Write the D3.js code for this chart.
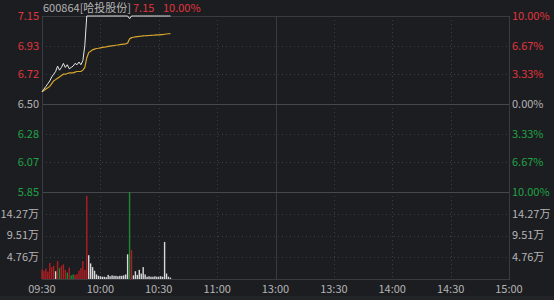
<!DOCTYPE html>
<html>
<head>
<meta charset="utf-8">
<script src="https://cdn.jsdelivr.net/npm/d3@7"></script>
<style>
  html, body { margin: 0; padding: 0; background: #1c1d21; }
  svg { display: block; }
  text { font-family: "Noto Sans CJK SC", "Noto Sans", sans-serif; font-size: 11px; }
</style>
</head>
<body>
<div id="chart"></div>
<script>
var width = 554, height = 300;
var plotLeft = 42, plotRight = 509, plotTop = 16, plotMid = 192, plotBottom = 279;

// minute index from 09:30 (0 .. 240)
var timeLabels = ['09:30', '10:00', '10:30', '11:00', '13:00', '13:30', '14:00', '14:30', '15:00'];
var timeTicks = [0, 30, 60, 90, 120, 150, 180, 210, 240];

var prevClose = 6.50;
var priceTicks = [7.15, 6.93, 6.72, 6.50, 6.28, 6.07, 5.85];
var pctLabels = ['10.00%', '6.67%', '3.33%', '0.00%', '3.33%', '6.67%', '10.00%'];
var volTicks = [14.27, 9.51, 4.76];
var volMax = 19.02;

var price = [6.59, 6.61, 6.63, 6.65, 6.67, 6.70, 6.72, 6.74, 6.78, 6.75,
             6.77, 6.80, 6.77, 6.79, 6.76, 6.77, 6.78, 6.80, 6.79, 6.81,
             6.79, 6.82, 6.93, 7.15, 7.15, 7.15, 7.15, 7.15, 7.15, 7.15,
             7.15, 7.15, 7.15, 7.15, 7.15, 7.15, 7.15, 7.15, 7.15, 7.15,
             7.15, 7.15, 7.15, 7.15, 7.15, 7.13, 7.15, 7.15, 7.15, 7.15,
             7.15, 7.15, 7.15, 7.15, 7.15, 7.15, 7.15, 7.15, 7.15, 7.15,
             7.15, 7.15, 7.15, 7.15, 7.15, 7.15, 7.15];

var avg = [6.59, 6.60, 6.61, 6.62, 6.63, 6.65, 6.67, 6.68, 6.69, 6.70,
           6.71, 6.72, 6.72, 6.725, 6.73, 6.73, 6.73, 6.735, 6.74, 6.74,
           6.74, 6.75, 6.77, 6.84, 6.88, 6.89, 6.90, 6.905, 6.91, 6.912,
           6.915, 6.918, 6.92, 6.922, 6.925, 6.928, 6.93, 6.932, 6.934, 6.936,
           6.938, 6.94, 6.942, 6.944, 6.95, 6.98, 6.99, 6.993, 6.996, 6.998,
           7.00, 7.001, 7.003, 7.004, 7.005, 7.006, 7.007, 7.008, 7.009, 7.01,
           7.011, 7.012, 7.013, 7.015, 7.017, 7.019, 7.02];

// 万
var volume = [2.0, 1.8, 2.3, 1.6, 3.5, 2.6, 2.9, 1.7, 3.9, 2.4,
              2.9, 3.2, 2.0, 1.4, 2.5, 0.8, 1.0, 0.9, 1.1, 1.8,
              2.4, 3.9, 2.0, 18.2, 5.2, 3.4, 2.6, 1.8, 1.0, 0.7,
              0.6, 0.5, 0.5, 0.4, 0.9, 0.6, 0.8, 0.7, 0.7, 0.6,
              0.7, 0.7, 0.8, 1.0, 5.4, 19.0, 6.3, 0.8, 1.7, 0.9,
              2.0, 1.2, 2.6, 1.0, 0.5, 0.6, 0.5, 0.5, 0.6, 0.5,
              0.5, 0.6, 0.5, 8.1, 1.2, 0.5, 0.3];

// r = up, g = down, w = flat
var volDir = ['r','r','r','r','r','r','r','w','r','g',
              'r','r','r','g','r','g','g','r','r','r',
              'r','r','r','r','w','w','w','w','w','w',
              'w','w','w','w','w','w','w','w','w','w',
              'w','w','w','w','w','g','r','w','w','w',
              'w','w','w','w','w','w','w','w','w','w',
              'w','w','w','w','w','w','w'];

var RED = '#e0353d', GREEN = '#1fa344', GRAY = '#b4b4b4';
var barColor = { r: '#b01e22', g: '#1b8a30', w: '#d8d8d8' };

var x = d3.scaleLinear().domain([0, 240]).range([plotLeft, plotRight]);
var y = d3.scaleLinear().domain([5.85, 7.15]).range([plotMid, plotTop]);
var yv = d3.scaleLinear().domain([0, volMax]).range([plotBottom, plotMid]);

var labelColor = function(v) {
  if (Math.abs(v - prevClose) < 0.001) return GRAY;
  return v > prevClose ? RED : GREEN;
};

var svg = d3.select('#chart').append('svg')
  .attr('width', width)
  .attr('height', height);

svg.append('rect')
  .attr('width', width).attr('height', height)
  .attr('fill', '#1c1d21');

// bottom strip
svg.append('rect')
  .attr('x', 0).attr('y', 296).attr('width', width).attr('height', 4)
  .attr('fill', '#232428');

var grid = svg.append('g');

// horizontal dotted lines
var dottedPrices = priceTicks.filter(function(d) { return d != 7.15 && d != 6.50 && d != 5.85; });
grid.selectAll('line.hp')
  .data(dottedPrices).enter()
  .append('line')
  .attr('x1', plotLeft).attr('x2', plotRight)
  .attr('y1', function(d) { return Math.round(y(d)) + 0.5; })
  .attr('y2', function(d) { return Math.round(y(d)) + 0.5; })
  .attr('stroke', '#3c3d42')
  .attr('stroke-dasharray', '1,3');

grid.selectAll('line.hv')
  .data(volTicks).enter()
  .append('line')
  .attr('x1', plotLeft).attr('x2', plotRight)
  .attr('y1', function(d) { return Math.round(yv(d)) + 0.5; })
  .attr('y2', function(d) { return Math.round(yv(d)) + 0.5; })
  .attr('stroke', '#3c3d42')
  .attr('stroke-dasharray', '1,3');

// vertical lines
grid.selectAll('line.vt')
  .data(timeTicks.slice(1, -1)).enter()
  .append('line')
  .attr('x1', function(d) { return Math.round(x(d)) + 0.5; })
  .attr('x2', function(d) { return Math.round(x(d)) + 0.5; })
  .attr('y1', plotTop).attr('y2', plotBottom)
  .attr('stroke', function(d) { return d == 120 ? '#3a3b40' : '#3c3d42'; })
  .attr('stroke-dasharray', function(d) { return d == 120 ? null : '1,3'; });

// solid lines: 0% and separator
grid.selectAll('line.solid')
  .data([y(prevClose), y(5.85)]).enter()
  .append('line')
  .attr('x1', plotLeft).attr('x2', plotRight)
  .attr('y1', function(d) { return Math.round(d) + 0.5; })
  .attr('y2', function(d) { return Math.round(d) + 0.5; })
  .attr('stroke', '#47484d');

// border
grid.append('rect')
  .attr('x', plotLeft + 0.5).attr('y', plotTop + 0.5)
  .attr('width', plotRight - plotLeft).attr('height', plotBottom - plotTop)
  .attr('fill', 'none')
  .attr('stroke', '#3a3b40');

// volume bars
svg.selectAll('rect.vol')
  .data(volume).enter()
  .append('rect')
  .attr('x', function(d, i) { return x(i) - 0.7; })
  .attr('width', 1.4)
  .attr('y', function(d) { return yv(d); })
  .attr('height', function(d) { return plotBottom - yv(d); })
  .attr('fill', function(d, i) { return barColor[volDir[i]]; });

// average line
var line = d3.line()
  .x(function(d, i) { return x(i); })
  .y(function(d) { return y(d); });

svg.append('path')
  .datum(avg)
  .attr('d', line)
  .attr('fill', 'none')
  .attr('stroke', '#d6a62c')
  .attr('stroke-width', 1.2);

svg.append('path')
  .datum(price)
  .attr('d', line)
  .attr('fill', 'none')
  .attr('stroke', '#e6e6e6')
  .attr('stroke-width', 1);

// left price labels
svg.selectAll('text.lp')
  .data(priceTicks).enter()
  .append('text')
  .attr('x', plotLeft - 3)
  .attr('y', function(d) { return y(d); })
  .attr('dy', '0.35em')
  .attr('text-anchor', 'end')
  .attr('fill', labelColor)
  .text(function(d) { return d.toFixed(2); });

// right pct labels
svg.selectAll('text.rp')
  .data(priceTicks).enter()
  .append('text')
  .attr('x', plotRight + 3)
  .attr('y', function(d) { return y(d); })
  .attr('dy', '0.35em')
  .attr('fill', labelColor)
  .text(function(d, i) { return pctLabels[i]; });

// volume labels
svg.selectAll('text.lv')
  .data(volTicks).enter()
  .append('text')
  .attr('x', plotLeft - 3)
  .attr('y', function(d) { return yv(d); })
  .attr('dy', '0.35em')
  .attr('text-anchor', 'end')
  .attr('fill', GRAY)
  .text(function(d) { return d.toFixed(2) + '万'; });

svg.selectAll('text.rv')
  .data(volTicks).enter()
  .append('text')
  .attr('x', plotRight + 3)
  .attr('y', function(d) { return yv(d); })
  .attr('dy', '0.35em')
  .attr('fill', GRAY)
  .text(function(d) { return d.toFixed(2) + '万'; });

// time labels
svg.selectAll('text.t')
  .data(timeTicks).enter()
  .append('text')
  .attr('x', function(d) { return x(d); })
  .attr('y', 289)
  .attr('dy', '0.35em')
  .attr('text-anchor', 'middle')
  .attr('fill', GRAY)
  .text(function(d, i) { return timeLabels[i]; });

// title
var title = svg.append('text')
  .attr('x', 43)
  .attr('y', 12);
title.append('tspan').attr('fill', GRAY).text('600864[哈投股份]');
title.append('tspan').attr('x', 133).attr('fill', RED).text('7.15');
title.append('tspan').attr('x', 163).attr('fill', RED).text('10.00%');
</script>
</body>
</html>
